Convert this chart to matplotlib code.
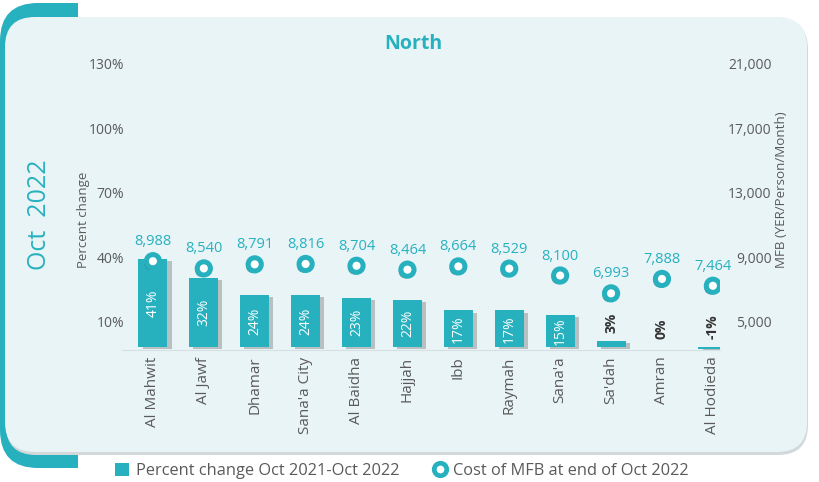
import matplotlib
matplotlib.use('Agg')
import matplotlib.pyplot as plt
from matplotlib.patches import FancyBboxPatch, Rectangle, Patch
from matplotlib.lines import Line2D
import matplotlib.patheffects as pe
import matplotlib.transforms as mtransforms
import numpy as np

plt.rcParams['font.family'] = ['Open Sans', 'DejaVu Sans']

categories = ["Al Mahwit", "Al Jawf", "Dhamar", "Sana'a City", "Al Baidha", "Hajjah",
              "Ibb", "Raymah", "Sana'a", "Sa'dah", "Amran", "Al Hodieda"]
pct_change = [41, 32, 24, 24, 23, 22, 17, 17, 15, 3, 0, -1]
mfb_cost = [8988, 8540, 8791, 8816, 8704, 8464, 8664, 8529, 8100, 6993, 7888, 7464]
left_ticks = [10, 40, 70, 100, 130]
right_ticks = [5000, 9000, 13000, 17000, 21000]

TEAL = '#27B1BF'
GREY = '#5a5a5a'
PANEL = '#E9F4F7'

fig = plt.figure(figsize=(8.2, 4.82), dpi=100)

# background decoration (pixel coordinates)
bg = fig.add_axes([0, 0, 1, 1], zorder=-10)
bg.set_xlim(0, 820)
bg.set_ylim(482, 0)
bg.axis('off')
clip = Rectangle((0, 0), 78, 482, transform=bg.transData)
teal = FancyBboxPatch((0, 3), 300, 465, boxstyle='round,pad=0,rounding_size=38',
                      fc=TEAL, ec='none')
bg.add_patch(teal)
teal.set_clip_path(clip)
shadow = FancyBboxPatch((6, 19), 802, 436, boxstyle='round,pad=0,rounding_size=30',
                        fc='#d3d9db', ec='none')
bg.add_patch(shadow)
panel = FancyBboxPatch((5, 17), 802, 435, boxstyle='round,pad=0,rounding_size=30',
                       fc=PANEL, ec='none')
bg.add_patch(panel)

# main axes
ylo, yhi = -1.3, 132
ax = fig.add_axes([130 / 820, 0.2743, 590 / 820, 0.5946])
ax.set_facecolor('none')
x = np.arange(len(categories))
ax.bar(x, pct_change, width=0.57, color=TEAL, zorder=3,
       path_effects=[pe.SimplePatchShadow(offset=(3, -1.5), shadow_rgbFace='#4a4a4a', alpha=0.3),
                     pe.Normal()])
ax.set_xlim(-0.45, 11.14)
ax.set_ylim(ylo, yhi)
ax.set_yticks(left_ticks)
ax.set_yticklabels([f"{t}%" for t in left_ticks])
ax.set_xticks(x)
ax.set_xticklabels(categories, rotation=90)
ax.tick_params(axis='y', length=0, pad=4, labelsize=10, labelcolor=GREY)
ax.tick_params(axis='x', length=0, pad=5, labelsize=11, labelcolor=GREY)
for s in ['top', 'right', 'left']:
    ax.spines[s].set_visible(False)
ax.spines['bottom'].set_color('#d6dfe2')
ax.spines['bottom'].set_bounds(-0.6, 11.14)

for i, v in enumerate(pct_change):
    if v >= 10:
        ax.text(i, v / 2, f"{v}%", rotation=90, ha='center', va='center',
                color='white', fontsize=10, zorder=5)
    else:
        ax.text(i, max(v, 0) + 3.5, f"{v}%", rotation=90, ha='center', va='bottom',
                color='#333333', fontsize=10, fontweight='bold', zorder=5)

# secondary axis
ax2 = ax.twinx()
base = 3666.67
scale = 4000 / 30
ax2.set_ylim(base + ylo * scale, base + yhi * scale)
ax2.set_yticks(right_ticks)
ax2.set_yticklabels([f"{t:,}" for t in right_ticks])
ax2.tick_params(axis='y', length=0, pad=37, labelsize=10, labelcolor=GREY)
for s in ax2.spines.values():
    s.set_visible(False)
ax2.plot(x, mfb_cost, linestyle='none', marker='o', ms=9.5, mew=3.6,
         mfc='white', mec=TEAL, zorder=6,
         path_effects=[pe.SimplePatchShadow(offset=(-1.5, -1.5), shadow_rgbFace='#1b6d76', alpha=0.7),
                       pe.Normal()])
for i, v in enumerate(mfb_cost):
    ax2.annotate(f"{v:,}", (i, v), xytext=(0, 14), textcoords='offset points',
                 ha='center', va='center', color=TEAL, fontsize=10.5)

# shift y tick labels up slightly, right labels right-aligned
lift = mtransforms.ScaledTranslation(0, 0.035, fig.dpi_scale_trans)
for lab in ax.get_yticklabels():
    lab.set_transform(lab.get_transform() + lift)
for lab in ax2.get_yticklabels():
    lab.set_transform(lab.get_transform() + lift)
    lab.set_horizontalalignment('right')

# titles and labels
fig.text(413 / 820, 1 - 44 / 482, "North", ha='center', va='center',
         color=TEAL, fontsize=14, fontweight='bold')
fig.text(40 / 820, 1 - 215 / 482, "Oct  2022", rotation=90, ha='center', va='center',
         color=TEAL, fontsize=18)
fig.text(83 / 820, 1 - 220 / 482, "Percent change", rotation=90, ha='center', va='center',
         color=GREY, fontsize=9.5)
fig.text(782 / 820, 1 - 190 / 482, "MFB (YER/Person/Month)", rotation=90, ha='center',
         va='center', color=GREY, fontsize=9.6)

handles = [Patch(fc=TEAL, ec='none', label='Percent change Oct 2021-Oct 2022'),
           Line2D([], [], linestyle='none', marker='o', ms=9, mew=3.4, mfc='white',
                  mec=TEAL, label='Cost of MFB at end of Oct 2022')]
leg = fig.legend(handles=handles, loc='center', bbox_to_anchor=(0.49, 1 - 471 / 482),
                 ncol=2, frameon=False, fontsize=11.8, handlelength=0.9, handleheight=0.9,
                 handletextpad=0.4, columnspacing=2.0)
for t in leg.get_texts():
    t.set_color(GREY)

fig.savefig('out.png', dpi=100)
